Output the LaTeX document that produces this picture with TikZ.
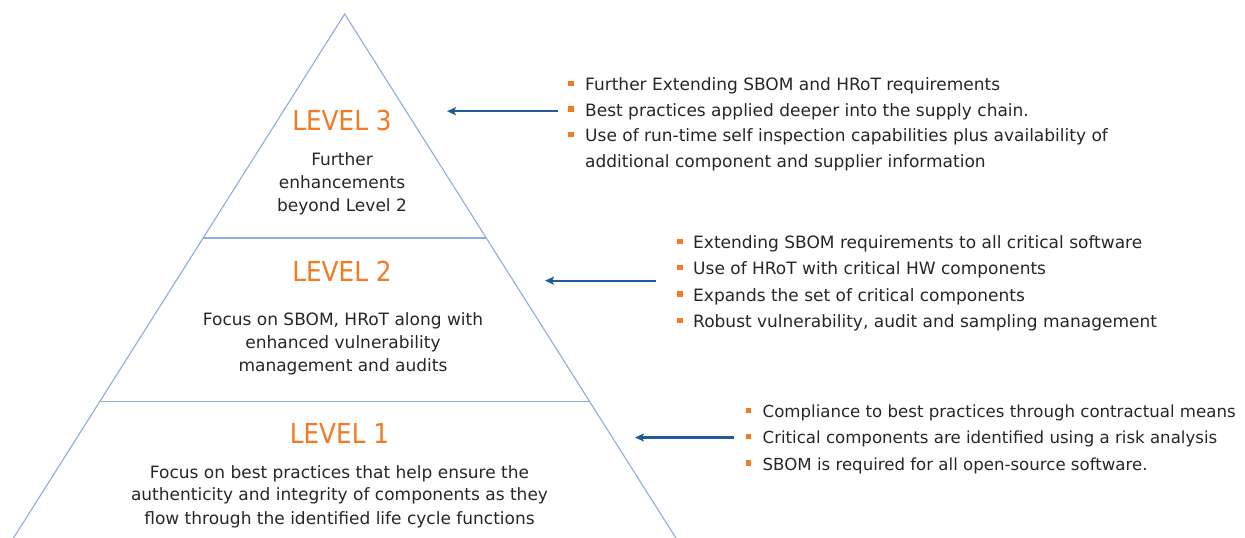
\documentclass[tikz,border=0pt]{standalone}
\usepackage{fontspec}
\setmainfont{DejaVu Sans}
\newfontfamily\lvlfont{DejaVu Sans Condensed}
\usetikzlibrary{arrows.meta}
\definecolor{lvlorange}{HTML}{F47920}
\definecolor{bulorange}{HTML}{F47920}
\definecolor{triline}{HTML}{8FAADC}
\definecolor{arrblue}{HTML}{1F5A9A}
\definecolor{txt}{HTML}{262626}
\begin{document}
\begin{tikzpicture}[x=1pt,y=-1pt,
  lvl/.style={font=\lvlfont\fontsize{27.5}{30}\selectfont, text=lvlorange, anchor=base, inner sep=0pt},
  desc/.style={font=\fontsize{17}{20}\selectfont, text=txt, anchor=base, inner sep=0pt},
  itemtxt/.style={font=\fontsize{17}{20}\selectfont, text=txt, anchor=base west, inner sep=0pt},
  itemtxtb/.style={font=\fontsize{16.6}{20}\selectfont, text=txt, anchor=base west, inner sep=0pt},
  bulsq/.style={fill=bulorange, minimum width=5.5pt, minimum height=5.5pt, inner sep=0pt, outer sep=0pt},
  tri/.style={draw=triline, line width=1.1pt},
  conn/.style={draw=arrblue, line width=2.4pt, -{Stealth[length=9pt,width=8pt,inset=2pt]}}]
\useasboundingbox (0,0) rectangle (1245,538);
\clip (0,0) rectangle (1245,538);
% pyramid
\coordinate (apex) at (344.7,14);
\coordinate (bl) at (9.1,545);
\coordinate (br) at (680.3,545);
\coordinate (s3l) at (203.1,238);
\coordinate (s3r) at (486.3,238);
\coordinate (s2l) at (99.9,401.3);
\coordinate (s2r) at (589.5,401.3);
\draw[tri] (bl) -- (apex) -- (br);
\draw[tri] (s3l) -- (s3r);
\draw[tri] (s2l) -- (s2r);
% level texts
\node[lvl] (lv3) at (342,130.7) {LEVEL 3};
\node[desc] (d3a) at (342,165.5) {Further};
\node[desc] (d3b) at (342,188.5) {enhancements};
\node[desc] (d3c) at (342,211.5) {beyond Level 2};
\node[lvl] (lv2) at (342,281.7) {LEVEL 2};
\node[desc] (d2a) at (343,325) {Focus on SBOM, HRoT along with};
\node[desc] (d2b) at (343,348.3) {enhanced vulnerability};
\node[desc] (d2c) at (343,371.7) {management and audits};
\node[lvl] (lv1) at (339.5,443) {LEVEL 1};
\node[desc] (d1a) at (339.5,478.3) {Focus on best practices that help ensure the};
\node[desc] (d1b) at (339.5,500.7) {authenticity and integrity of components as they};
\node[desc] (d1c) at (339.5,524) {flow through the identified life cycle functions};
% level 3 list
\node[bulsq] (b3a) at (571,83.5) {};
\node[bulsq] (b3b) at (571,109) {};
\node[bulsq] (b3c) at (571,134.5) {};
\node[itemtxt] (t3a) at (585,90.5) {Further Extending SBOM and HRoT requirements};
\node[itemtxt] (t3b) at (585,116) {Best practices applied deeper into the supply chain.};
\node[itemtxt] (t3c) at (585,141.5) {Use of run-time self inspection capabilities plus availability of};
\node[itemtxt] (t3d) at (585,167) {additional component and supplier information};
% level 2 list
\node[bulsq] (b2a) at (680,241.3) {};
\node[bulsq] (b2b) at (680,267.6) {};
\node[bulsq] (b2c) at (680,294) {};
\node[bulsq] (b2d) at (680,320.3) {};
\node[itemtxt] (t2a) at (693,248.3) {Extending SBOM requirements to all critical software};
\node[itemtxt] (t2b) at (693,274.6) {Use of HRoT with critical HW components};
\node[itemtxt] (t2c) at (693,301) {Expands the set of critical components};
\node[itemtxt] (t2d) at (693,327.3) {Robust vulnerability, audit and sampling management};
% level 1 list
\node[bulsq] (b1a) at (748.5,410.3) {};
\node[bulsq] (b1b) at (748.5,436.6) {};
\node[bulsq] (b1c) at (748.5,463) {};
\node[itemtxtb] (t1a) at (762.5,417.3) {Compliance to best practices through contractual means};
\node[itemtxtb] (t1b) at (762.5,443.6) {Critical components are identified using a risk analysis};
\node[itemtxtb] (t1c) at (762.5,470) {SBOM is required for all open-source software.};
% arrows
\coordinate (a3s) at (558,111.2);
\coordinate (a3e) at (447,111.2);
\coordinate (a2s) at (656,280.7);
\coordinate (a2e) at (545,280.7);
\coordinate (a1s) at (733.5,437.5);
\coordinate (a1e) at (635,437.5);
\draw[conn] (a3s) -- (a3e);
\draw[conn] (a2s) -- (a2e);
\draw[conn] (a1s) -- (a1e);
\end{tikzpicture}
\end{document}
